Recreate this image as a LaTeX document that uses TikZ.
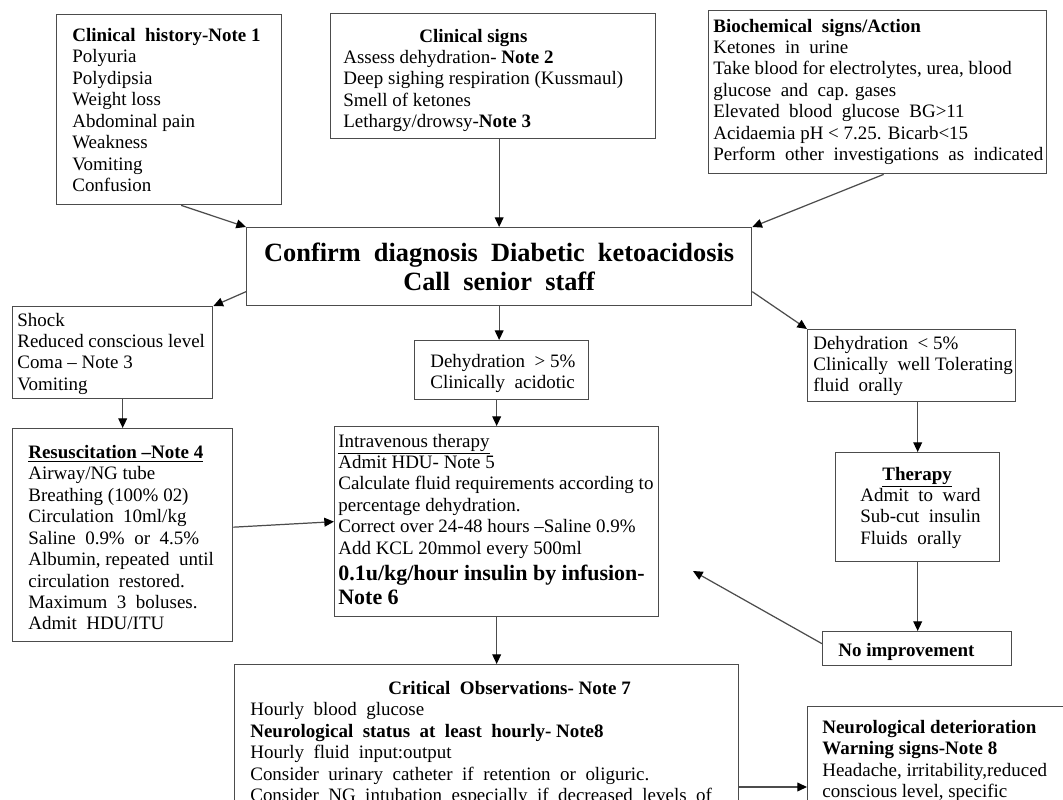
\documentclass[tikz,border=0pt]{standalone}
\usepackage{fontspec}
\setmainfont{Liberation Serif}
\usetikzlibrary{arrows.meta}
\newcommand{\bigb}{\fontsize{12.5}{14}\selectfont\bfseries}

\begin{document}
\begin{tikzpicture}[x=0.02cm, y=-0.02cm,
    box/.style={draw=black!70, line width=0.8pt, anchor=north west, inner sep=0pt},
    txt/.style={anchor=north west, align=left, inner sep=0pt, font=\fontsize{10.8}{12.2}\selectfont},
    arr/.style={draw=black!70, line width=0.7pt, -{Triangle[length=5.5pt,width=5pt,black]}}]
    \useasboundingbox (0,0) rectangle (1063,800);
    \clip (0,0) rectangle (1063,800);

    \node[box, minimum width=4.5cm, minimum height=3.8cm] (hist) at (56,14) {};
    \node[txt] (hist-t) at ([shift={(16,14)}]hist.north west)
        {\textbf{Clinical\ \ history-Note 1}\\ Polyuria\\ Polydipsia\\ Weight loss\\ Abdominal pain\\ Weakness\\ Vomiting\\ Confusion};

    \node[box, minimum width=6.5cm, minimum height=2.5cm] (signs) at (330,13) {};
    \node[txt] (signs-t) at ([shift={(13,15.5)}]signs.north west)
        {\hspace*{1.52cm}\textbf{Clinical signs}\\ Assess dehydration- \textbf{Note 2}\\ Deep sighing respiration (Kussmaul)\\ Smell of ketones\\ Lethargy/drowsy-\textbf{Note 3}};

    \node[box, minimum width=6.76cm, minimum height=3.26cm] (bio) at (708,10) {};
    \node[txt] (bio-t) at ([shift={(5,8.5)}]bio.north west)
        {\textbf{Biochemical\ \ signs/Action}\\ Ketones\ \ in\ \ urine\\ Take blood for electrolytes, urea, blood\\ glucose\ \ and\ \ cap. gases\\ Elevated\ \ blood\ \ glucose\ \ BG>11\\ Acidaemia pH < 7.25. Bicarb<15\\ Perform\ \ other\ \ investigations\ \ as\ \ indicated};

    \node[box, minimum width=10.1cm, minimum height=1.56cm, align=center,
          font=\fontsize{15}{16.5}\selectfont\bfseries] (confirm) at (246,227)
        {Confirm\ \ diagnosis\ \ Diabetic\ \ ketoacidosis\\ Call\ \ senior\ \ staff};

    \node[box, minimum width=4cm, minimum height=1.84cm] (shock) at (12,306) {};
    \node[txt] (shock-t) at ([shift={(5,6.5)}]shock.north west)
        {Shock\\ Reduced conscious level\\ Coma – Note 3\\ Vomiting};

    \node[box, minimum width=3.48cm, minimum height=1.18cm] (dgt) at (414,340) {};
    \node[txt] (dgt-t) at ([shift={(16,13.5)}]dgt.north west)
        {Dehydration\ \ > 5\%\\ Clinically\ \ acidotic};

    \node[box, minimum width=4.16cm, minimum height=1.44cm] (dlt) at (807,329) {};
    \node[txt] (dlt-t) at ([shift={(6,6.5)}]dlt.north west)
        {Dehydration\ \ < 5\%\\ Clinically\ \ well Tolerating\\ fluid\ \ orally};

    \node[box, minimum width=4.4cm, minimum height=4.26cm] (resus) at (12,428) {};
    \node[txt] (resus-t) at ([shift={(16,17)}]resus.north west)
        {\textbf{\underline{Resuscitation –Note 4}}\\ Airway/NG tube\\ Breathing (100\% 02)\\ Circulation\ \ 10ml/kg\\ Saline\ \ 0.9\%\ \ or\ \ 4.5\%\\ Albumin, repeated\ \ until\\ circulation\ \ restored.\\ Maximum\ \ 3\ \ boluses.\\ Admit\ \ HDU/ITU};

    \node[box, minimum width=6.48cm, minimum height=3.8cm] (iv) at (334,426) {};
    \node[txt] (iv-t) at ([shift={(4,7.5)}]iv.north west)
        {\underline{Intravenous therapy}\\ Admit HDU- Note 5\\ Calculate fluid requirements according to\\ percentage dehydration.\\ Correct over 24-48 hours –Saline 0.9\%\\ Add KCL 20mmol every 500ml\\[3pt] \bigb 0.1u/kg/hour insulin by infusion-\\[1pt] \bigb Note 6};

    \node[box, minimum width=3.28cm, minimum height=2.18cm] (therapy) at (835,452) {};
    \node[txt] (therapy-t) at ([shift={(25,14.5)}]therapy.north west)
        {\hspace*{0.44cm}\textbf{\underline{Therapy}}\\ Admit\ \ to\ \ ward\\ Sub-cut\ \ insulin\\ Fluids\ \ orally};

    \node[box, minimum width=3.78cm, minimum height=0.68cm] (noimp) at (822,631) {};
    \node[txt] (noimp-t) at ([shift={(16,11.5)}]noimp.north west) {\textbf{No improvement}};

    \node[box, minimum width=10.08cm, minimum height=4cm] (crit) at (234,664) {};
    \node[txt] (crit-t) at ([shift={(16,17)}]crit.north west)
        {\hspace*{2.76cm}\textbf{Critical\ \ Observations- Note 7}\\ Hourly\ \ blood\ \ glucose\\ \textbf{Neurological\ \ status\ \ at\ \ least\ \ hourly- Note8}\\ Hourly\ \ fluid\ \ input:output\\ Consider\ \ urinary\ \ catheter\ \ if\ \ retention\ \ or\ \ oliguric.\\ Consider\ \ NG\ \ intubation\ \ especially\ \ if\ \ decreased\ \ levels\ \ of};

    \node[box, minimum width=5.6cm, minimum height=4cm] (neuro) at (807,706) {};
    \node[txt] (neuro-t) at ([shift={(15,14)}]neuro.north west)
        {\textbf{Neurological deterioration}\\ \textbf{Warning signs-Note 8}\\ Headache, irritability,reduced\\ conscious level, specific};

    \coordinate (back) at (693,571);

    \draw[arr] ([shift={(12,0)}]hist.south) -- (confirm.north west);
    \draw[arr] (signs.south -| confirm.north) -- (confirm.north);
    \draw[arr] ([shift={(6,0)}]bio.south) -- (confirm.north east);
    \draw[arr] ([shift={(0,25)}]confirm.west) -- (shock.north east);
    \draw[arr] (confirm.south) -- (confirm.south |- dgt.north);
    \draw[arr] ([shift={(0,25)}]confirm.east) -- (dlt.north west);
    \draw[arr] (shock.south -| resus.north) -- (resus.north);
    \draw[arr] (dgt.south -| iv.north) -- (iv.north);
    \draw[arr] (dlt.south -| therapy.north) -- (therapy.north);
    \draw[arr] ([shift={(0,-8)}]resus.east) -- (iv.west);
    \draw[arr] (iv.south) -- (iv.south |- crit.north);
    \draw[arr] (therapy.south) -- (therapy.south |- noimp.north);
    \draw[arr] ([shift={(0,-5)}]noimp.west) -- (back);
    \draw[arr] ([shift={(0,123)}]crit.north east) -- ([shift={(0,81)}]neuro.north west);
\end{tikzpicture}
\end{document}
